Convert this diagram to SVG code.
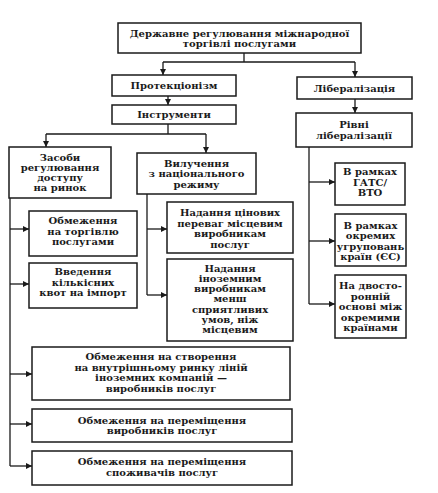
<svg xmlns="http://www.w3.org/2000/svg" width="438" height="493" viewBox="0 0 438 493">
<style>
rect{fill:#fff;stroke:#1a1a1a;stroke-width:1.5}
text{font-family:"DejaVu Serif","Liberation Serif",serif;font-weight:bold;font-size:10px;fill:#1a1a1a;text-anchor:middle}
.c{fill:none;stroke:#1a1a1a;stroke-width:1.3}
</style>
<defs>
<marker id="a" viewBox="0 0 10 10" refX="10" refY="5" markerWidth="6" markerHeight="6" orient="auto" markerUnits="userSpaceOnUse"><path d="M0,0 L10,5 L0,10 z" fill="#1a1a1a"/></marker>
</defs>
<rect x="0" y="0" width="438" height="493" style="stroke:none"/>
<g id="connectors" class="c">
<path d="M244,53 V62 M163,62 H355"/>
<path d="M163,62 V75" marker-end="url(#a)"/>
<path d="M355,62 V77" marker-end="url(#a)"/>
<path d="M168,96 V105" marker-end="url(#a)"/>
<path d="M355,99 V113" marker-end="url(#a)"/>
<path d="M168,124 V134 M46,134 H206"/>
<path d="M46,134 V147" marker-end="url(#a)"/>
<path d="M206,134 V153" marker-end="url(#a)"/>
<path d="M10,198 V466"/>
<path d="M10,229 H29" marker-end="url(#a)"/>
<path d="M10,284 H29" marker-end="url(#a)"/>
<path d="M10,374 H32" marker-end="url(#a)"/>
<path d="M10,424 H32" marker-end="url(#a)"/>
<path d="M10,466 H32" marker-end="url(#a)"/>
<path d="M147,194 V295"/>
<path d="M147,229 H167" marker-end="url(#a)"/>
<path d="M147,295 H167" marker-end="url(#a)"/>
<path d="M309,147 V304"/>
<path d="M309,182 H335" marker-end="url(#a)"/>
<path d="M309,241 H335" marker-end="url(#a)"/>
<path d="M309,304 H335" marker-end="url(#a)"/>
</g>
<g id="n-top"><rect x="118" y="23" width="243" height="30"/>
<text x="239.5" y="36.5">Державне регулювання міжнародної</text>
<text x="239.5" y="47">торгівлі послугами</text></g>
<g id="n-prot"><rect x="112" y="75" width="124" height="21"/>
<text x="174" y="89">Протекціонізм</text></g>
<g id="n-lib"><rect x="297" y="77" width="115" height="22"/>
<text x="354.5" y="91.5">Лібералізація</text></g>
<g id="n-instr"><rect x="112" y="105" width="124" height="19"/>
<text x="174" y="118">Інструменти</text></g>
<g id="n-rivni"><rect x="296" y="113" width="116" height="34"/>
<text x="354" y="128">Рівні</text>
<text x="354" y="138.5">лібералізації</text></g>
<g id="n-zasoby"><rect x="9" y="147" width="102" height="51"/>
<text x="60" y="160.5">Засоби</text>
<text x="60" y="170.8">регулювання</text>
<text x="60" y="181.1">доступу</text>
<text x="60" y="191.4">на ринок</text></g>
<g id="n-vyluch"><rect x="137" y="153" width="119" height="41"/>
<text x="196.5" y="166.5">Вилучення</text>
<text x="196.5" y="177">з національного</text>
<text x="196.5" y="187.5">режиму</text></g>
<g id="n-obm1"><rect x="29" y="211" width="108" height="45"/>
<text x="83" y="224">Обмеження</text>
<text x="83" y="234.5">на торгівлю</text>
<text x="83" y="245">послугами</text></g>
<g id="n-vved"><rect x="29" y="263" width="108" height="45"/>
<text x="83" y="275">Введення</text>
<text x="83" y="285.5">кількісних</text>
<text x="83" y="296">квот на імпорт</text></g>
<g id="n-tsin"><rect x="167" y="202" width="126" height="51"/>
<text x="230" y="216">Надання цінових</text>
<text x="230" y="226.5">переваг місцевим</text>
<text x="230" y="237">виробникам</text>
<text x="230" y="247.5">послуг</text></g>
<g id="n-inoz"><rect x="167" y="259" width="126" height="82"/>
<text x="230" y="271.5">Надання</text>
<text x="230" y="281.8">іноземним</text>
<text x="230" y="292.1">виробникам</text>
<text x="230" y="302.4">менш</text>
<text x="230" y="312.7">сприятливих</text>
<text x="230" y="323">умов, ніж</text>
<text x="230" y="333.3">місцевим</text></g>
<g id="n-stv"><rect x="32" y="347" width="258" height="53"/>
<text x="161" y="360">Обмеження на створення</text>
<text x="161" y="370.5">на внутрішньому ринку ліній</text>
<text x="161" y="381">іноземних компаній —</text>
<text x="161" y="391.5">виробників послуг</text></g>
<g id="n-vyrob"><rect x="32" y="409" width="260" height="33"/>
<text x="162" y="423.5">Обмеження на переміщення</text>
<text x="162" y="434">виробників послуг</text></g>
<g id="n-spozh"><rect x="32" y="451" width="260" height="34"/>
<text x="162" y="465">Обмеження на переміщення</text>
<text x="162" y="475.5">споживачів послуг</text></g>
<g id="n-gats"><rect x="335" y="163" width="70" height="42"/>
<text x="370" y="175">В рамках</text>
<text x="370" y="185.5">ГАТС/</text>
<text x="370" y="196">ВТО</text></g>
<g id="n-okr"><rect x="335" y="214" width="71" height="52"/>
<text x="370.5" y="228.5">В рамках</text>
<text x="370.5" y="239">окремих</text>
<text x="370.5" y="249.5">угруповань</text>
<text x="370.5" y="260">країн (ЄС)</text></g>
<g id="n-dvo"><rect x="335" y="275" width="71" height="63"/>
<text x="370.5" y="289">На двосто-</text>
<text x="370.5" y="299.5">ронній</text>
<text x="370.5" y="310">основі між</text>
<text x="370.5" y="320.5">окремими</text>
<text x="370.5" y="331">країнами</text></g>
</svg>
